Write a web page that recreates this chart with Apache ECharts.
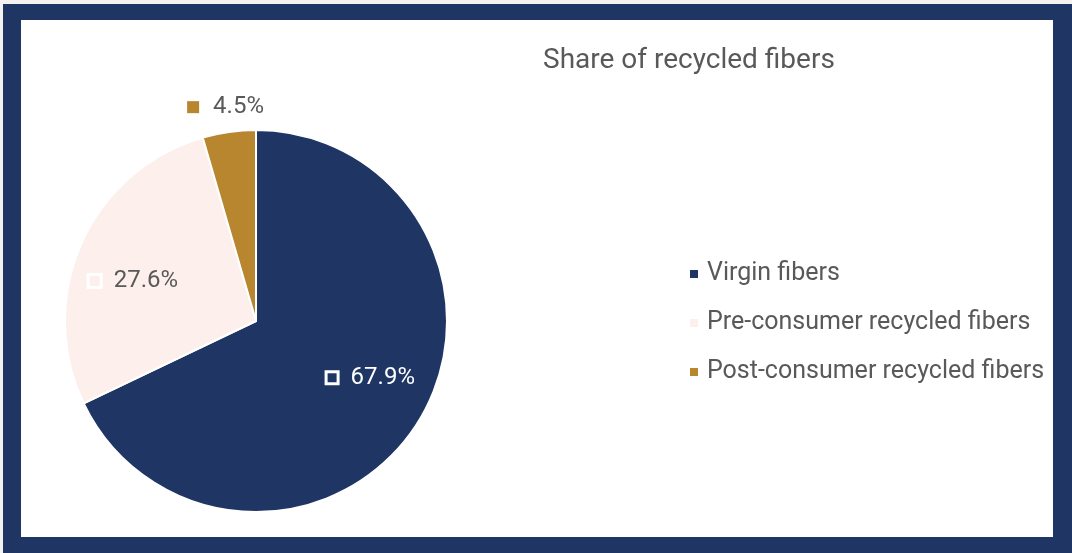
<!DOCTYPE html>
<html>
<head>
    <meta charset="UTF-8">
    <title>Share of recycled fibers</title>
    <script src="https://cdn.jsdelivr.net/npm/echarts@6/dist/echarts.min.js"></script>
    <style>
        html, body { margin: 0; padding: 0; background: #f5f3ef; }
        #frame {
            position: absolute; left: 3px; top: 4px;
            width: 1069px; height: 549px; background: #1f3564;
        }
        #inner {
            position: absolute; left: 18px; top: 16px;
            width: 1032px; height: 517px; background: #ffffff;
        }
        #chart { position: absolute; left: 0; top: 0; width: 1072px; height: 553px; }
    </style>
</head>
<body>
<div id="frame"><div id="inner"></div></div>
<div id="chart"></div>
<script>
    var categories = ['Virgin fibers', 'Pre-consumer recycled fibers', 'Post-consumer recycled fibers'];
    var shares = [67.9, 27.6, 4.5];
    var colors = ['#1f3564', '#fdf0ec', '#b8862f'];

    var textGray = '#595959';
    var font = 'Roboto';

    // label looks per slice: marker box + value text
    var labelLooks = [
        { box: { width: 9, height: 9, backgroundColor: colors[0], borderColor: '#fff', borderWidth: 3 }, color: '#ffffff' },
        { box: { width: 10, height: 10, backgroundColor: colors[1], borderColor: '#fff', borderWidth: 3 }, color: textGray },
        { box: { width: 12, height: 12, backgroundColor: colors[2] }, color: textGray }
    ];

    function richFor(i) {
        return {
            m: labelLooks[i].box,
            v: { color: labelLooks[i].color, fontSize: 24, fontFamily: font, padding: [0, 0, 0, 14] }
        };
    }

    var mainData = categories.map(function (c, i) {
        return {
            name: c,
            value: shares[i],
            itemStyle: { color: colors[i] },
            label: { show: i === 2, rich: richFor(i) }
        };
    });

    var overlayData = categories.map(function (c, i) {
        return {
            name: c,
            value: shares[i],
            label: { show: i !== 2, rich: richFor(i) }
        };
    });

    var chart = echarts.init(document.getElementById('chart'));
    chart.setOption({
        backgroundColor: 'transparent',
        animation: false,
        title: {
            text: 'Share of recycled fibers',
            left: 538,
            top: 42,
            textStyle: { color: textGray, fontSize: 28, fontWeight: 'normal', fontFamily: font }
        },
        legend: {
            orient: 'vertical',
            left: 683,
            top: 256,
            icon: 'rect',
            itemWidth: 10,
            itemHeight: 10,
            itemGap: 23,
            data: categories,
            textStyle: { color: textGray, fontSize: 25, fontFamily: font, lineHeight: 26, padding: [0, 0, 0, 3] }
        },
        series: [
            {
                type: 'pie',
                center: [256, 321],
                radius: [0, 191],
                startAngle: 90,
                clockwise: true,
                avoidLabelOverlap: false,
                itemStyle: { borderColor: '#ffffff', borderWidth: 2 },
                label: {
                    position: 'outside',
                    distanceToLabelLine: 0,
                    formatter: function (p) { return '{m|}{v|' + p.value + '%}'; }
                },
                labelLine: { show: false, length: 25, length2: 0 },
                labelLayout: function () { return { align: 'center' }; },
                data: mainData
            },
            {
                // transparent twin, only carries the inside labels
                type: 'pie',
                center: [256, 321],
                radius: [60, 191],
                startAngle: 96,
                clockwise: true,
                silent: true,
                avoidLabelOverlap: false,
                itemStyle: { color: 'rgba(0,0,0,0)' },
                label: {
                    position: 'inside',
                    formatter: function (p) { return '{m|}{v|' + p.value + '%}'; }
                },
                labelLine: { show: false },
                data: overlayData
            }
        ]
    });
</script>
</body>
</html>
